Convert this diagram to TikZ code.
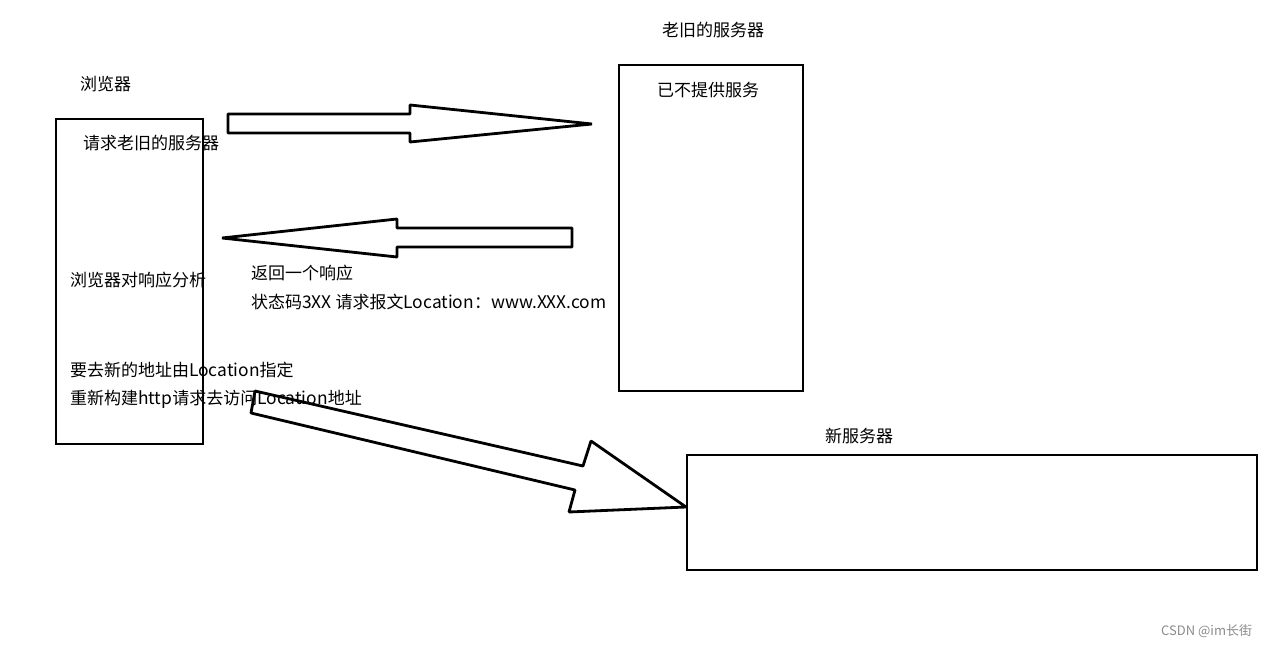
\documentclass[tikz,border=0pt]{standalone}
\usepackage{fontspec}
\setmainfont{Noto Sans CJK SC}
\newcommand{\lt}[1]{{\fontsize{17.4}{20}\selectfont #1}}
\begin{document}
\begin{tikzpicture}[x=1pt,y=-1pt,
  lbl/.style={anchor=west,inner sep=0pt,font=\fontsize{17}{20}\selectfont},
  box/.style={draw,line width=2.8pt,inner sep=0pt},
  fatarrow/.style={draw,line width=2.8pt,line join=bevel,fill=white}]
\useasboundingbox[fill=white] (0,0) rectangle (1269,647);
% boxes
\draw[box] (56,119) rectangle (203,444);
\draw[box] (619,65) rectangle (803,391);
\draw[box] (687,455) rectangle (1257,570);
% arrows
\draw[fatarrow] (228,114) -- (410,114) -- (410,105) -- (592,124) -- (410,142) -- (410,133) -- (228,133) -- cycle;
\draw[fatarrow] (572,228) -- (397,228) -- (397,219) -- (222,238) -- (397,257) -- (397,247) -- (572,247) -- cycle;
% labels
\node[lbl] (browser) at (80,84) {浏览器};
\node[lbl] (req) at (83,143) {请求老旧的服务器};
\node[lbl] (analyse) at (70,280) {浏览器对响应分析};
\node[lbl] (newaddr) at (70,370) {要去新的地址由\lt{Location}指定};
\node[lbl] (rebuild) at (70,399) {重新构建\lt{http}请求去访问\lt{Location}地址};
\node[lbl] (resp1) at (251,273) {返回一个响应};
\node[lbl] (resp2) at (251,302) {状态码\lt{3XX} 请求报文\lt{Location}：\lt{www.XXX.com}};
\node[lbl] (oldtitle) at (662,30) {老旧的服务器};
\node[lbl] (oldtext) at (657,90) {已不提供服务};
\node[lbl] (newtitle) at (825,436) {新服务器};
\draw[fatarrow,fill=none] (255,391) -- (583,466) -- (591,441) -- (686,507) -- (569,512) -- (575,490) -- (251,413) -- cycle;
\node[anchor=west,inner sep=0pt,text=black!45,font=\fontsize{13}{15}\selectfont] (wm) at (1161,631) {CSDN @im长街};
\end{tikzpicture}
\end{document}
